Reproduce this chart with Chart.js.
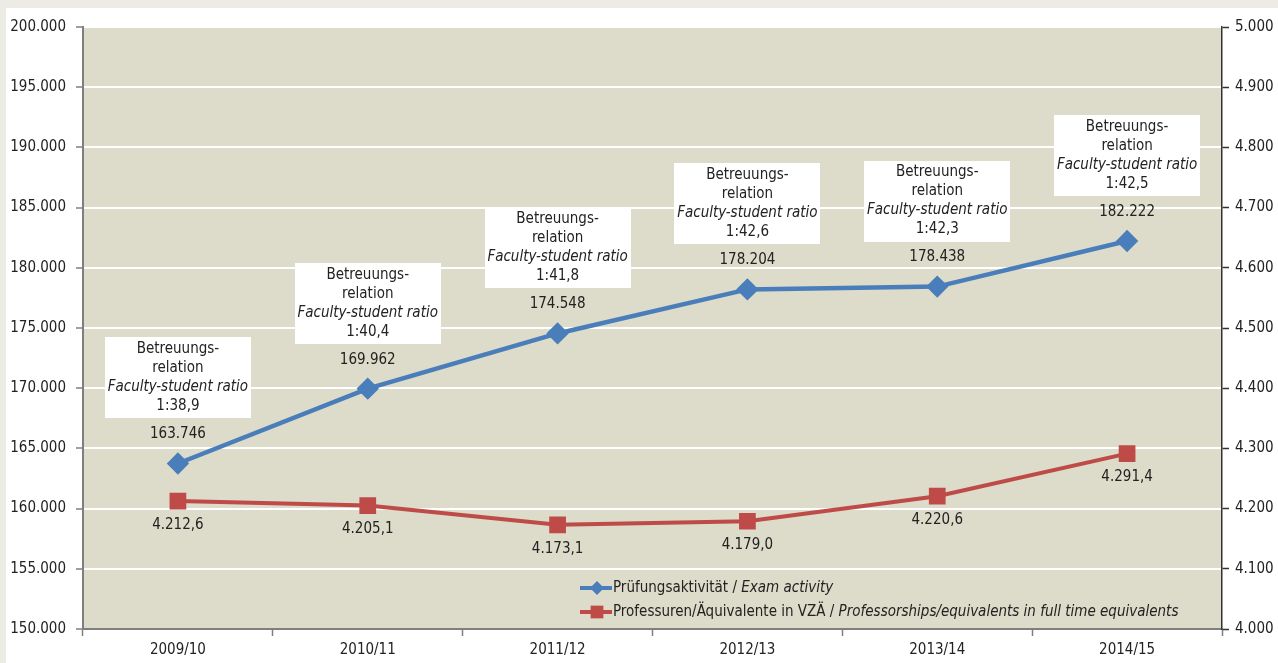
<!DOCTYPE html>
<html><head><meta charset="utf-8">
<script src="https://cdn.jsdelivr.net/npm/chart.js@4"></script>
<style>
html,body{margin:0;padding:0;background:#ecebe4;overflow:hidden;}
#wrap{position:absolute;left:6px;top:8px;width:1272px;height:655px;background:#fff;}
</style></head><body>
<div id="wrap"><canvas id="c" width="1272" height="655"></canvas></div>
<script>
const categories = ['2009/10','2010/11','2011/12','2012/13','2013/14','2014/15'];
const examActivity = [163746,169962,174548,178204,178438,182222];
const professorships = [4212.6,4205.1,4173.1,4179.0,4220.6,4291.4];
const ratios = ['1:38,9','1:40,4','1:41,8','1:42,6','1:42,3','1:42,5'];
const boxLines = ['Betreuungs-','relation','Faculty-student ratio'];
const seriesLabels = ['Prüfungsaktivität / ','Professuren/Äquivalente in VZÄ / '];
const seriesLabelsItalic = ['Exam activity','Professorships/equivalents in full time equivalents'];
const leftRange = [150000,200000,5000];
const rightRange = [4000,5000,100];

const F = '"Liberation Sans Narrow","DejaVu Sans Condensed","Roboto Condensed",sans-serif';
const FS = 15;
const BLUE = '#4a7ebb', RED = '#be4b48', TXT = '#222';
const fmt0 = v => Number(v).toLocaleString('de-DE',{maximumFractionDigits:0});
const fmt1 = v => Number(v).toLocaleString('de-DE',{minimumFractionDigits:1,maximumFractionDigits:1});
Chart.defaults.font.family = F;
Chart.defaults.font.size = FS;
Chart.defaults.color = TXT;

function marker(ctx, type, x, y, r, color){
  ctx.fillStyle = color;
  ctx.beginPath();
  if(type==='rectRot'){ctx.moveTo(x-r,y);ctx.lineTo(x,y-r);ctx.lineTo(x+r,y);ctx.lineTo(x,y+r);ctx.closePath();}
  else {const s=r*Math.SQRT1_2; ctx.rect(x-s,y-s,2*s,2*s);}
  ctx.fill();
}

const deco = {
  id:'deco',
  beforeDraw(chart){
    const {ctx, chartArea:a} = chart;
    ctx.save(); ctx.fillStyle='#dddbc9';
    ctx.fillRect(a.left,a.top,a.right-a.left,a.bottom-a.top); ctx.restore();
  },
  afterDatasetsDraw(chart){
    const ctx = chart.ctx, a = chart.chartArea;
    const m0 = chart.getDatasetMeta(0), m1 = chart.getDatasetMeta(1);
    const N = FS+'px '+F, I = 'italic '+FS+'px '+F;
    ctx.save(); ctx.textAlign='center'; ctx.textBaseline='middle';
    m0.data.forEach((pt,i)=>{
      const x=pt.x, y=pt.y;
      ctx.fillStyle='#fff'; ctx.fillRect(Math.round(x-73),Math.round(y-126),146,81);
      ctx.fillStyle=TXT;
      ctx.font=N;
      ctx.fillText(boxLines[0],x,y-114);
      ctx.fillText(boxLines[1],x,y-95);
      ctx.font=I;
      ctx.fillText(boxLines[2],x,y-76);
      ctx.font=N;
      ctx.fillText(ratios[i],x,y-57);
      ctx.fillText(fmt0(examActivity[i]),x,y-29);
    });
    m1.data.forEach((pt,i)=>{ ctx.fillText(fmt1(professorships[i]),pt.x,pt.y+24); });
    // legend
    const lx = a.left+497, ly = [a.bottom-41, a.bottom-17];
    const cols=[BLUE,RED], types=['rectRot','rect'], rad=[7,9];
    ctx.textAlign='left';
    for(let k=0;k<2;k++){
      ctx.strokeStyle=cols[k]; ctx.lineWidth=4;
      ctx.beginPath(); ctx.moveTo(lx,ly[k]); ctx.lineTo(lx+32,ly[k]); ctx.stroke();
      marker(ctx,types[k],lx+17,ly[k],rad[k],cols[k]);
      ctx.fillStyle=TXT; ctx.font=N;
      ctx.fillText(seriesLabels[k],lx+33,ly[k]);
      const w=ctx.measureText(seriesLabels[k]).width;
      ctx.font=I;
      ctx.fillText(seriesLabelsItalic[k],lx+33+w,ly[k]);
    }
    ctx.restore();
  }
};

new Chart(document.getElementById('c'),{
  type:'line',
  data:{labels:categories,datasets:[
    {label:seriesLabels[0]+seriesLabelsItalic[0],data:examActivity,yAxisID:'y',borderColor:BLUE,backgroundColor:BLUE,
     borderWidth:4.5,pointStyle:'rectRot',pointRadius:8,pointHoverRadius:8,tension:0},
    {label:seriesLabels[1]+seriesLabelsItalic[1],data:professorships,yAxisID:'y1',borderColor:RED,backgroundColor:RED,
     borderWidth:4,pointStyle:'rect',pointRadius:9,pointHoverRadius:9,tension:0}
  ]},
  options:{
    responsive:false, devicePixelRatio:1, animation:false,
    layout:{padding:{top:15,bottom:0,left:0,right:0}},
    plugins:{legend:{display:false},tooltip:{enabled:false}},
    scales:{
      x:{offset:true,
         grid:{offset:true,drawOnChartArea:false,tickLength:7,tickColor:'#7f7f7f',tickWidth:1.5},
         border:{color:'#7f7f7f',width:2},
         ticks:{color:TXT,padding:5,maxRotation:0,font:{size:FS}},
         afterFit(s){s.height=34;}},
      y:{position:'left',min:leftRange[0],max:leftRange[1],
         ticks:{stepSize:leftRange[2],padding:10,color:TXT,font:{size:FS},callback:v=>fmt0(v)},
         grid:{color:'#ffffff',lineWidth:2,tickColor:'#7f7f7f',tickLength:7,tickWidth:1.5},
         border:{color:'#7f7f7f',width:2},
         afterFit(s){s.width=77;}},
      y1:{position:'right',min:rightRange[0],max:rightRange[1],
         ticks:{stepSize:rightRange[2],padding:6,color:TXT,font:{size:FS},callback:v=>fmt0(v)},
         grid:{drawOnChartArea:false,tickColor:'#333',tickLength:7,tickWidth:1.5},
         border:{color:'#333',width:1.5},
         afterFit(s){s.width=56;}}
    }
  },
  plugins:[deco]
});
</script></body></html>
